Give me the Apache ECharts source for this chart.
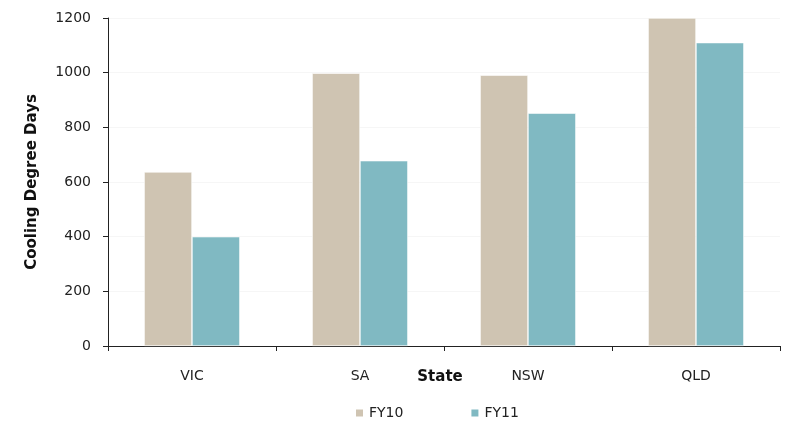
<!DOCTYPE html>
<html><head><meta charset="utf-8">
<script src="https://cdn.jsdelivr.net/npm/echarts@6/dist/echarts.min.js"></script>
<style>html,body{margin:0;padding:0;background:#fff}#c{width:791px;height:422px}</style>
</head><body><div id="c"></div>
<script>
var categories = ["VIC", "SA", "NSW", "QLD"];
var fy10 = [637, 998, 991, 1200];
var fy11 = [400, 678, 852, 1110];
var seriesNames = ["FY10", "FY11"];
var yTicks = [0, 200, 400, 600, 800, 1000, 1200];

var font = "DejaVu Sans, Verdana, sans-serif";
var chart = echarts.init(document.getElementById('c'));
chart.setOption({
  animation: false,
  textStyle: {fontFamily: font},
  grid: {left: 108, right: 11, top: 18, bottom: 76},
  legend: {
    data: seriesNames, left: 349, top: 401, itemWidth: 9, itemHeight: 9, itemGap: 66,
    icon: 'rect',
    textStyle: {fontFamily: font, fontSize: 14, color: '#222'}
  },
  xAxis: {
    type: 'category', data: categories,
    name: 'State', nameLocation: 'middle', nameGap: 24, nameMoveOverlap: false,
    nameTextStyle: {fontFamily: font, fontSize: 15, fontWeight: 'bold', color: '#111', padding: [0, 8, 0, 0]},
    axisLine: {lineStyle: {color: '#222', width: 1}},
    axisTick: {show: true, length: 5, lineStyle: {color: '#222'}},
    axisLabel: {fontFamily: font, fontSize: 14, color: '#222', margin: 23}
  },
  yAxis: {
    type: 'value', min: 0, max: yTicks[yTicks.length - 1], interval: 200,
    name: 'Cooling Degree Days', nameLocation: 'middle', nameGap: 68, nameRotate: 90, nameMoveOverlap: false,
    nameTextStyle: {fontFamily: font, fontSize: 15, fontWeight: 'bold', color: '#111'},
    axisLine: {show: true, lineStyle: {color: '#222', width: 1}},
    axisTick: {show: true, length: 5, lineStyle: {color: '#222'}},
    axisLabel: {fontFamily: font, fontSize: 14, color: '#222', margin: 17,
      formatter: function (v) { return String(v); }},
    splitLine: {show: true, lineStyle: {color: '#f6f6f6'}}
  },
  series: [
    {name: seriesNames[0], type: 'bar', data: fy10, barGap: '0%', barCategoryGap: '43%',
     itemStyle: {color: '#cfc4b2', borderColor: '#ffffff', borderWidth: 0.6}},
    {name: seriesNames[1], type: 'bar', data: fy11,
     itemStyle: {color: '#80b9c2', borderColor: '#ffffff', borderWidth: 0.6}}
  ]
});
</script></body></html>
